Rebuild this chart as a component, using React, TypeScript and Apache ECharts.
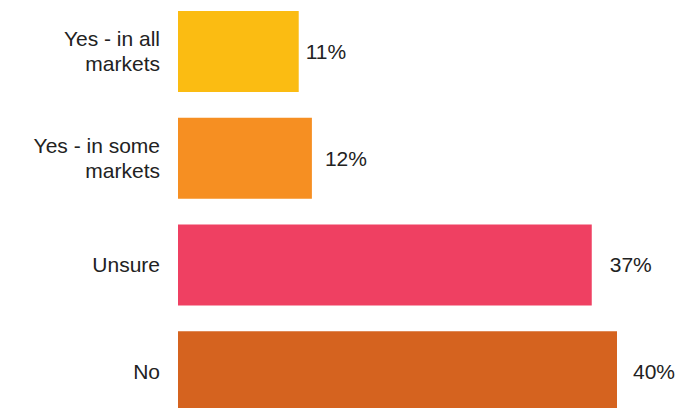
import React, { useEffect, useRef } from "react";
import * as echarts from "echarts";

const categories = ["Yes - in all\nmarkets", "Yes - in some\nmarkets", "Unsure", "No"];
const values = [11, 12.2, 37.7, 40];
const valueLabels = ["11%", "12%", "37%", "40%"];

const barColors = ["#FBBC12", "#F68F22", "#EF4062", "#D5631F"];
const labelGaps = [7, 13, 18, 16];

export default function App() {
  const ref = useRef<HTMLDivElement>(null);
  useEffect(() => {
    if (!ref.current) return;
    const chart = echarts.init(ref.current, undefined, { renderer: "svg" });
    chart.setOption({
      animation: false,
      grid: { left: 178, right: 58, top: 0, bottom: 0, containLabel: false },
      xAxis: {
        type: "value",
        min: 0,
        max: 40,
        show: false,
      },
      yAxis: {
        type: "category",
        inverse: true,
        data: categories,
        axisLine: { show: false },
        axisTick: { show: false },
        splitLine: { show: false },
        axisLabel: {
          margin: 18,
          fontSize: 21,
          lineHeight: 25,
          color: "#222222",
          fontFamily: "Liberation Sans, Arial, sans-serif",
          align: "right",
        },
      },
      series: [
        {
          type: "bar",
          barWidth: 81,
          data: values.map((v, i) => ({
            value: v,
            itemStyle: { color: barColors[i] },
            label: {
              show: true,
              position: "right",
              distance: labelGaps[i],
              formatter: valueLabels[i],
              fontSize: 21,
              color: "#222222",
              fontFamily: "Liberation Sans, Arial, sans-serif",
            },
          })),
        },
      ],
    });
    return () => chart.dispose();
  }, []);
  return (
    <div
      style={{
        position: "fixed",
        top: 0,
        left: 0,
        width: 675,
        height: 408,
        overflow: "hidden",
        background: "#fff",
      }}
    >
      <div ref={ref} style={{ position: "absolute", top: -2, left: 0, width: 675, height: 427 }} />
    </div>
  );
}
